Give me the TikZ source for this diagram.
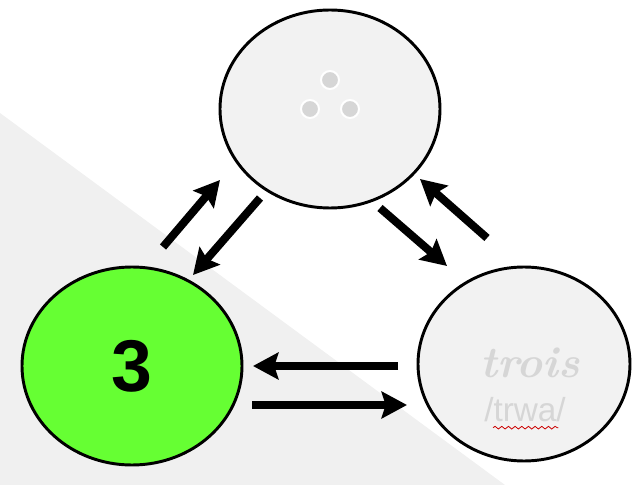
\documentclass[tikz,border=0pt]{standalone}
\usepackage{fontspec}
\usetikzlibrary{shapes.geometric,arrows.meta,decorations.pathmorphing}
\newfontfamily\arialfont{Liberation Sans}
\definecolor{lightgreen}{RGB}{102,255,51}
\definecolor{pale}{RGB}{242,242,242}
\definecolor{faint}{RGB}{214,214,214}

\begin{document}
\begin{tikzpicture}[
  x=0.75pt, y=-0.75pt,
  bubble/.style={ellipse,draw=black,line width=2.2pt,fill=pale,inner sep=0pt},
  dot/.style={circle,fill=faint,draw=white,line width=1.5pt,minimum size=13.5pt,inner sep=0pt},
  arr/.style={line width=6pt,-{Stealth[length=19pt,width=20pt,inset=3pt]}},
]
\useasboundingbox (0,0) rectangle (633,485);
% grey wedge behind the lower left
\fill[gray!12] (0,113) -- (0,485) -- (505,485) -- cycle;

% the three states
\node[bubble,minimum width=165pt,minimum height=148.5pt] (top) at (330,109) {};
\node[bubble,fill=lightgreen,minimum width=165pt,minimum height=148.5pt,
      font=\arialfont\bfseries\fontsize{55}{60}\selectfont] (num) at (132,366) {3};
\node[bubble,minimum width=159pt,minimum height=145.5pt] (word) at (524,364) {};

% three dots in the top one
\node[dot] (d1) at (330,80) {};
\node[dot] (d2) at (310,109) {};
\node[dot] (d3) at (350,109) {};

% word and its sound
\node[text=faint,font=\bfseries\itshape\fontsize{33}{36}\selectfont,anchor=base] (trois) at (530,377) {trois};
\node[text=faint,font=\arialfont\fontsize{25}{28}\selectfont,anchor=base] (phon) at (525,421) {/trwa/};
\draw[red!80!black,line width=0.6pt,decorate,decoration={snake,amplitude=1pt,segment length=5pt}]
  ([xshift=-24pt,yshift=-5pt]phon.base) -- ([xshift=25pt,yshift=-5pt]phon.base);

% arrows between the states
\draw[arr] ([shift={(31,-119)}]num.center) -- ([shift={(-110,71)}]top.center);
\draw[arr] ([shift={(-70,89)}]top.center) -- ([shift={(61,-91)}]num.center);
\draw[arr] ([shift={(50,99)}]top.center) -- ([shift={(-77,-98)}]word.center);
\draw[arr] ([shift={(-37,-126)}]word.center) -- ([shift={(90,70)}]top.center);
\draw[arr] ([shift={(-126,2)}]word.center) -- ([shift={(121,0)}]num.center);
\draw[arr] ([shift={(120,39)}]num.center) -- ([shift={(-117,41)}]word.center);
\end{tikzpicture}
\end{document}
